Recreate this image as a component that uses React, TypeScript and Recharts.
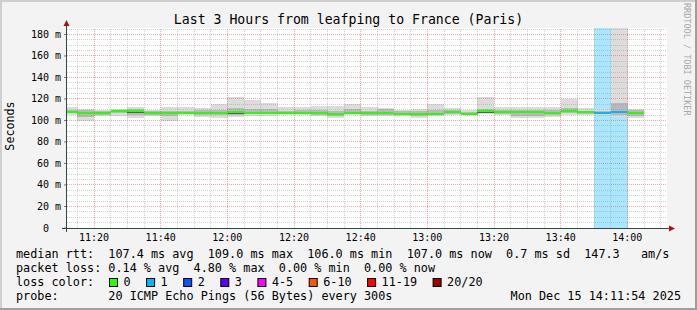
import React from "react";
import { ComposedChart, Bar, XAxis, YAxis, ReferenceLine, Cell, CartesianGrid } from "recharts";

const FONT = "'DejaVu Sans Mono', monospace";

const TITLE = "Last 3 Hours from leafping to France (Paris)";
const Y_LABEL = "Seconds";
const WATERMARK = "RRDTOOL / TOBI OETIKER";

// 5-minute bins (start time)
const BIN_STARTS = [
  "11:10", "11:15", "11:20", "11:25", "11:30", "11:35", "11:40", "11:45", "11:50", "11:55",
  "12:00", "12:05", "12:10", "12:15", "12:20", "12:25", "12:30", "12:35", "12:40", "12:45",
  "12:50", "12:55", "13:00", "13:05", "13:10", "13:15", "13:20", "13:25", "13:30", "13:35",
  "13:40", "13:45", "13:50", "13:55", "14:00",
];
const MEDIAN_RTT = [
  108.3, 107.2, 106.9, 109.0, 108.4, 107.2, 107.2, 107.2, 107.3, 107.2,
  107.6, 107.4, 107.2, 107.2, 107.3, 107.3, 106.2, 107.4, 106.8, 107.0,
  106.4, 106.0, 106.4, 107.6, 106.3, 108.4, 107.6, 107.8, 107.8, 107.0,
  108.4, 107.6, 106.5, 107.6, 107.3,
];
const PING_MIN = [
  105.2, 99.9, 104.6, 104.6, 102.0, 104.6, 99.9, 105.2, 103.6, 102.0,
  103.6, 104.6, 104.6, 105.2, 105.2, 104.6, 102.0, 105.2, 104.6, 104.6,
  104.6, 102.0, 104.6, 105.2, 105.2, 105.8, 105.2, 102.6, 102.6, 103.6,
  105.2, 105.2, 105.2, 103.3, 102.6,
];
const PING_MAX = [
  112.3, 110.4, 109.5, 110.7, 112.9, 109.5, 112.3, 112.3, 111.4, 115.1,
  121.5, 119.0, 116.0, 112.3, 112.9, 113.8, 113.8, 115.1, 112.3, 111.4,
  109.3, 110.7, 115.1, 111.4, 109.5, 121.5, 112.3, 112.3, 112.3, 112.9,
  119.7, 111.4, 110.7, 240.0, 110.7,
];
const SMOKE_LOW = [
  106.5, 103.5, 105.5, 106.5, 105.0, 105.5, 104.0, 105.8, 105.0, 105.0,
  105.5, 105.8, 105.8, 106.0, 106.0, 105.5, 104.5, 106.0, 105.5, 105.5,
  105.5, 104.0, 105.5, 106.0, 105.8, 107.0, 106.0, 104.5, 104.5, 105.0,
  106.5, 106.2, 105.8, 105.0, 104.5,
];
const SMOKE_HIGH = [
  110.0, 109.5, 108.5, 110.2, 110.5, 108.8, 109.0, 109.0, 109.8, 110.0,
  112.0, 111.0, 110.5, 109.0, 109.5, 110.0, 109.0, 110.5, 109.0, 110.5,
  108.5, 108.5, 109.5, 109.8, 108.2, 111.0, 109.5, 110.0, 110.0, 109.5,
  112.0, 109.2, 108.8, 116.0, 109.5,
];
const CORE_LOW = [
  107.6, 105.8, 106.0, 108.0, 107.2, 106.4, 106.4, 106.5, 106.2, 106.4,
  106.3, 106.2, 106.5, 106.4, 106.6, 106.1, 105.4, 106.6, 106.0, 105.8,
  105.6, 105.0, 105.4, 106.8, 105.6, 107.4, 106.8, 107.0, 107.0, 106.2,
  107.6, 106.6, 105.6, 106.8, 106.4,
];
const CORE_HIGH = [
  108.8, 107.8, 107.6, 109.5, 109.0, 107.8, 107.9, 107.8, 108.0, 108.0,
  108.2, 108.0, 107.8, 107.9, 108.0, 107.9, 106.9, 108.1, 107.4, 107.6,
  107.0, 106.6, 107.0, 108.2, 106.9, 109.6, 108.2, 108.4, 108.4, 107.6,
  109.8, 108.2, 107.2, 108.6, 108.0,
];
const LOST_PINGS = [
  0, 0, 0, 0, 0, 0, 0, 0, 0, 0,
  0, 0, 0, 0, 0, 0, 0, 0, 0, 0,
  0, 0, 0, 0, 0, 0, 0, 0, 0, 0,
  0, 0, 1, 1, 0,
];

const X_TICKS = ["11:20", "11:40", "12:00", "12:20", "12:40", "13:00", "13:20", "13:40", "14:00"];
const Y_TICKS = [0, 20, 40, 60, 80, 100, 120, 140, 160, 180];
const VIEW_START = "11:11:54";
const VIEW_END = "14:11:54";
const STEP_MIN = 5;
const Y_MAX = 186;
const Y_MINOR_STEP = 5;

const LOSS_LABELS = ["0", "1", "2", "3", "4-5", "6-10", "11-19", "20/20"];
const LOSS_COLORS = ["#26ff00", "#00b8ff", "#0059ff", "#5e00ff", "#ff00ff", "#ff5500", "#ff0000", "#a10000"];
const LOSS_UPPER = [0, 1, 2, 3, 5, 10, 19, 20];

const STATS_RTT = "median rtt:  107.4 ms avg  109.0 ms max  106.0 ms min  107.0 ms now  0.7 ms sd  147.3   am/s";
const STATS_LOSS = "packet loss: 0.14 % avg  4.80 % max  0.00 % min  0.00 % now";
const LOSS_TITLE = "loss color:";
const PROBE = "probe:       20 ICMP Echo Pings (56 Bytes) every 300s";
const STAMP = "Mon Dec 15 14:11:54 2025";

const toMin = (s: string) => {
  const [h, m, sec] = s.split(":").map(Number);
  return h * 60 + m + (sec || 0) / 60;
};
const fmt = (v: number) => {
  const h = Math.floor(v / 60);
  const m = Math.round(v - h * 60);
  return `${h}:${m < 10 ? "0" : ""}${m}`;
};

const LINE_HALF = Y_MAX / 200; // one pixel in value units

const rows = BIN_STARTS.map((t, i) => {
  const li = LOSS_UPPER.findIndex((u) => LOST_PINGS[i] <= u);
  return {
    mid: toMin(t) + STEP_MIN / 2,
    lossBand: LOST_PINGS[i] > 0 ? [0, Y_MAX] : null,
    lossColor: LOSS_COLORS[li],
    outer: [PING_MIN[i], PING_MAX[i]],
    smoke: [SMOKE_LOW[i], SMOKE_HIGH[i]],
    core: [CORE_LOW[i], CORE_HIGH[i]],
    median: [MEDIAN_RTT[i] - LINE_HALF, MEDIAN_RTT[i] + LINE_HALF],
  };
});

const X0 = toMin(VIEW_START);
const X1 = toMin(VIEW_END);
const X_MAJOR = X_TICKS.map(toMin);
const X_MINOR: number[] = [];
for (let t = Math.ceil(X0 / STEP_MIN) * STEP_MIN; t <= X1; t += STEP_MIN) {
  if (!X_MAJOR.includes(t)) X_MINOR.push(t);
}
const Y_MAJOR = Y_TICKS.filter((v) => v > 0);
const Y_MINOR: number[] = [];
for (let v = Y_MINOR_STEP; v <= Y_MAX; v += Y_MINOR_STEP) {
  if (!Y_TICKS.includes(v)) Y_MINOR.push(v);
}

const GRID_MINOR = "#8f8f8f";
const GRID_MAJOR = "#de5f5f";

const XTick = (p: any) => (
  <text x={p.x} y={241} textAnchor="middle" fontFamily={FONT} fontSize={10} fill="#000">
    {fmt(p.payload.value)}
  </text>
);
const YTick = (p: any) => (
  <text
    x={p.x}
    y={p.y}
    dy={3.5}
    textAnchor="end"
    fontFamily={FONT}
    fontSize={10}
    fill="#000"
    xmlSpace="preserve"
    style={{ whiteSpace: "pre" }}
  >
    {p.payload.value === 0 ? "0  " : `${p.payload.value} m`}
  </text>
);

const hiddenAxis = (id: string) => (
  <XAxis key={id} xAxisId={id} dataKey="mid" type="number" domain={[X0, X1]} allowDataOverflow hide />
);

const PreText = (p: any) => (
  <text
    x={p.x}
    y={p.y}
    textAnchor={p.anchor || "start"}
    fontFamily={FONT}
    fontSize={11.8}
    fill="#000"
    xmlSpace="preserve"
    style={{ whiteSpace: "pre" }}
  >
    {p.children}
  </text>
);

export default function App() {
  let lx = 109;
  const lossLegend = LOSS_LABELS.map((lab, i) => {
    const x = lx;
    lx += 14.5 + lab.length * 7.1 + 15.5;
    return (
      <g key={lab}>
        <rect x={x + 0.5} y={278.5} width={8} height={8} fill={LOSS_COLORS[i]} stroke="#000" strokeWidth={1} />
        <text x={x + 14.5} y={286} fontFamily={FONT} fontSize={11.8} fill="#000">{lab}</text>
      </g>
    );
  });

  return (
    <div style={{ position: "absolute", left: 0, top: 0, width: 697, height: 310, background: "#f3f3f3" }}>
      <ComposedChart
        width={697}
        height={310}
        data={rows}
        margin={{ top: 28, right: 30, bottom: 62, left: 0 }}
        barCategoryGap={0}
        barGap={0}
      >
        <CartesianGrid xAxisId="time" fill="#ffffff" horizontal={false} vertical={false} stroke="none" />
        {hiddenAxis("bg")}
        {hiddenAxis("outer")}
        {hiddenAxis("smoke")}
        {hiddenAxis("core")}
        <XAxis
          xAxisId="time"
          dataKey="mid"
          type="number"
          domain={[X0, X1]}
          allowDataOverflow
          ticks={X_MAJOR}
          interval={0}
          height={20}
          axisLine={false}
          tickLine={false}
          tick={<XTick />}
        />
        <YAxis
          type="number"
          domain={[0, Y_MAX]}
          allowDataOverflow
          ticks={Y_TICKS}
          interval={0}
          width={67}
          axisLine={false}
          tickSize={3}
          tickMargin={3}
          tickLine={{ stroke: "#777" }}
          tick={<YTick />}
        />
        <Bar xAxisId="bg" dataKey="lossBand" isAnimationActive={false} shapeRendering="crispEdges">
          {rows.map((r, i) => (
            <Cell key={i} fill={r.lossColor} fillOpacity={0.34} />
          ))}
        </Bar>
        <Bar xAxisId="outer" dataKey="outer" fill="#dcdcdc" isAnimationActive={false} shapeRendering="crispEdges" />
        <Bar xAxisId="smoke" dataKey="smoke" fill="#b9b9b9" isAnimationActive={false} shapeRendering="crispEdges" />
        <Bar xAxisId="core" dataKey="core" fill="#5a5a5a" isAnimationActive={false} shapeRendering="crispEdges" />
        <Bar xAxisId="time" dataKey="median" isAnimationActive={false} shapeRendering="crispEdges">
          {rows.map((r, i) => (
            <Cell key={i} fill={r.lossColor} />
          ))}
        </Bar>
        {X_MINOR.map((v) => (
          <ReferenceLine key={`xm${v}`} xAxisId="time" x={v} stroke={GRID_MINOR} strokeOpacity={0.4} strokeDasharray="1 1" shapeRendering="crispEdges" />
        ))}
        {Y_MINOR.map((v) => (
          <ReferenceLine key={`ym${v}`} xAxisId="time" y={v} stroke={GRID_MINOR} strokeOpacity={0.4} strokeDasharray="1 1" shapeRendering="crispEdges" />
        ))}
        {X_MAJOR.map((v) => (
          <ReferenceLine key={`xM${v}`} xAxisId="time" x={v} stroke={GRID_MAJOR} strokeOpacity={0.55} strokeDasharray="1 1" shapeRendering="crispEdges" />
        ))}
        {Y_MAJOR.map((v) => (
          <ReferenceLine key={`yM${v}`} xAxisId="time" y={v} stroke={GRID_MAJOR} strokeOpacity={0.55} strokeDasharray="1 1" shapeRendering="crispEdges" />
        ))}
      </ComposedChart>
      <svg
        width={697}
        height={310}
        style={{ position: "absolute", left: 0, top: 0, pointerEvents: "none" }}
      >
        {/* axes */}
        <line x1={66.5} y1={232} x2={66.5} y2={24} stroke="#2c4d43" strokeWidth={1} />
        <polygon points="63.5,26 69.5,26 66.5,20" fill="#b01010" />
        <line x1={62} y1={228.5} x2={670} y2={228.5} stroke="#2c4d43" strokeWidth={1} />
        <polygon points="669,225.5 669,231.5 675,228.5" fill="#b01010" />
        {/* title */}
        <text x={348.5} y={24} textAnchor="middle" fontFamily={FONT} fontSize={13.2} fill="#000">{TITLE}</text>
        <text
          x={0}
          y={0}
          transform="translate(14,126) rotate(-90)"
          textAnchor="middle"
          fontFamily={FONT}
          fontSize={11.7}
          fill="#000"
        >
          {Y_LABEL}
        </text>
        <text
          x={0}
          y={0}
          transform="translate(684,3) rotate(90)"
          fontFamily={FONT}
          fontSize={8.5}
          fill="#a8a8a8"
        >
          {WATERMARK}
        </text>
        {/* legend */}
        <PreText x={16} y={258}>{STATS_RTT}</PreText>
        <PreText x={16} y={272}>{STATS_LOSS}</PreText>
        <PreText x={16} y={286}>{LOSS_TITLE}</PreText>
        <PreText x={16} y={300}>{PROBE}</PreText>
        <PreText x={681} y={300} anchor="end">{STAMP}</PreText>
        {lossLegend}
        {/* frame */}
        <rect x={0} y={0} width={697} height={2} fill="#cfcfcf" />
        <rect x={0} y={0} width={2} height={310} fill="#cfcfcf" />
        <rect x={0} y={308} width={697} height={2} fill="#9e9e9e" />
        <rect x={695} y={0} width={2} height={310} fill="#9e9e9e" />
      </svg>
    </div>
  );
}
